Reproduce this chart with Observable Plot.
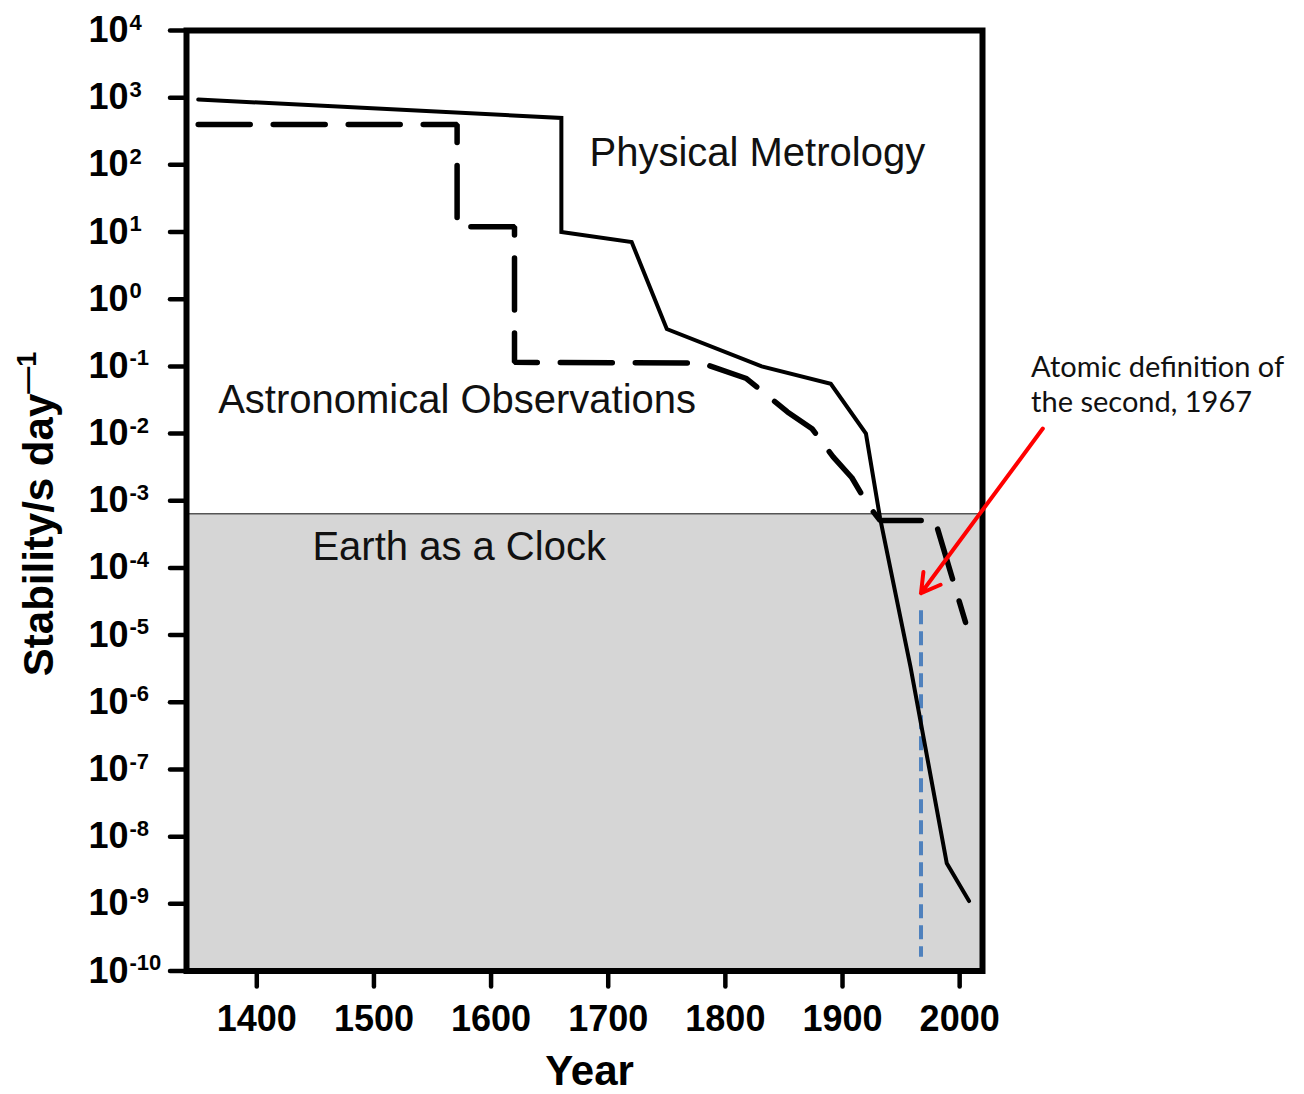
<!DOCTYPE html>
<html>
<head>
<meta charset="utf-8">
<script src="https://cdn.jsdelivr.net/npm/d3@7"></script>
<script src="https://cdn.jsdelivr.net/npm/@observablehq/plot@0.6"></script>
<style>
  html, body { margin: 0; padding: 0; background: #fff; }
  #chart svg { display: block; }
</style>
</head>
<body>
<div id="chart"></div>
<script>
// Stability of time-keeping (seconds per day) through the centuries.

// Physical metrology (solid curve)
const physicalYears  = [1350, 1660, 1660, 1720, 1750, 1831, 1890, 1920, 1932, 1958, 1989, 2008];
const physicalValues = [940, 500, 10, 7.1, 0.36, 0.1, 0.055, 0.01, 5.6e-4, 3.4e-6, 4e-9, 1.1e-9];

// Astronomical observations (dashed curve)
const astroYears  = [1350, 1571, 1571, 1620, 1620, 1780, 1818, 1853, 1874, 1892, 1908, 1921, 1932, 1979, 2005];
const astroValues = [400, 400, 12, 12, 0.115, 0.112, 0.066, 0.021, 0.0118, 0.0045, 0.0022, 9e-4, 5.1e-4, 5.1e-4, 1.55e-5];

// Limit set by the Earth's rotation as a clock
const earthClockLimit = 6.4e-4;

// Atomic definition of the second
const atomicYear = 1967;
const atomicSpan = [2.3e-5, 1.6e-10];

// Axes
const xTicks = [1400, 1500, 1600, 1700, 1800, 1900, 2000];
const yExponents = [-10, -9, -8, -7, -6, -5, -4, -3, -2, -1, 0, 1, 2, 3, 4];
const yMantissa = "10";
const xDomain = [1340, 2019.5];
const yDomain = [1e-10, 1e4];

const regionNames = ["Physical Metrology", "Astronomical Observations", "Earth as a Clock"];
const atomicNote = "Atomic definition of\nthe second, 1967";
const xTitle = "Year";
const yTitle = "Stability/s day";
const yTitleExponent = "\u20141";

const physical = physicalYears.map((year, i) => ({year, value: physicalValues[i]}));
const astro = astroYears.map((year, i) => ({year, value: astroValues[i]}));

const font = "'Liberation Sans', Arial, Helvetica, sans-serif";

const chart = Plot.plot({
  width: 1304,
  height: 1094,
  marginLeft: 186,
  marginRight: 322,
  marginTop: 30,
  marginBottom: 123.5,
  style: {background: "#fff", color: "#000", fontFamily: font},
  x: {domain: xDomain},
  y: {type: "log", domain: yDomain},
  marks: [
    // Earth-as-a-clock band
    Plot.rect([{}], {
      x1: () => xDomain[0], x2: () => xDomain[1],
      y1: () => yDomain[0], y2: () => earthClockLimit,
      fill: "#d6d6d6"
    }),
    Plot.ruleY([earthClockLimit], {stroke: "#555", strokeWidth: 1.3}),

    // Atomic second marker
    Plot.ruleX([atomicYear], {
      y1: atomicSpan[0], y2: atomicSpan[1],
      stroke: "#4f81bd", strokeWidth: 4, strokeDasharray: "14,7", strokeLinecap: "butt"
    }),

    // Curves
    Plot.line(astro, {
      x: "year", y: "value", stroke: "#000", strokeWidth: 5.5,
      strokeDasharray: "52,23", strokeLinecap: "round", strokeLinejoin: "miter"
    }),
    Plot.line(physical, {
      x: "year", y: "value", stroke: "#000", strokeWidth: 4,
      strokeLinejoin: "miter", strokeMiterlimit: 4
    }),

    // Axes
    Plot.axisX({
      ticks: xTicks, tickSize: 16, tickPadding: 18, label: null,
      fontSize: 36, fontWeight: "bold", strokeWidth: 4.5, strokeLinecap: "round",
      tickFormat: d => String(d)
    }),
    Plot.axisY({
      ticks: yExponents.map(e => 10 ** e), tickSize: 16, tickPadding: 42, label: null,
      fontSize: 36, fontWeight: "bold", strokeWidth: 4.5, strokeLinecap: "round",
      tickFormat: () => yMantissa
    }),
    Plot.text(yExponents, {
      y: e => 10 ** e, text: e => String(e), frameAnchor: "left",
      textAnchor: "start", dx: -57, dy: -8, fontSize: 22, fontWeight: "bold"
    }),
    Plot.frame({stroke: "#000", strokeWidth: 6}),

    // Axis titles
    Plot.text([xTitle], {
      frameAnchor: "bottom", lineAnchor: "bottom", dx: 5, dy: 113.5,
      fontSize: 42, fontWeight: "bold"
    }),
    Plot.text([yTitle], {
      frameAnchor: "left", rotate: -90, textAnchor: "end", lineAnchor: "bottom",
      dx: -134, dy: -107, fontSize: 42, fontWeight: "bold"
    }),
    Plot.text([yTitleExponent], {
      frameAnchor: "left", rotate: -90, textAnchor: "start", lineAnchor: "bottom",
      dx: -151, dy: -107, fontSize: 27, fontWeight: "bold"
    }),

    // Region labels
    Plot.text([regionNames[0]], {x: [1684], y: [95], textAnchor: "start", lineAnchor: "bottom", fontSize: 40, fill: "#111"}),
    Plot.text([regionNames[1]], {x: [1367], y: [0.02], textAnchor: "start", lineAnchor: "bottom", fontSize: 40, fill: "#111"}),
    Plot.text([regionNames[2]], {x: [1447.5], y: [1.3e-4], textAnchor: "start", lineAnchor: "bottom", fontSize: 40, fill: "#111"}),

    // Annotation for the atomic second
    Plot.text([atomicNote], {
      x: [2061], y: [0.0209], textAnchor: "start", lineAnchor: "bottom",
      lineHeight: 1.207, fontSize: 29, fontFamily: "Lato, 'Open Sans', sans-serif", fill: "#111"
    }),
    Plot.arrow([atomicNote], {
      x1: [2071], y1: [0.0119], x2: [atomicYear], y2: [4.2e-5],
      stroke: "#ff0000", strokeWidth: 4, headLength: 8
    })
  ]
});

document.getElementById("chart").append(chart);
</script>
</body>
</html>
